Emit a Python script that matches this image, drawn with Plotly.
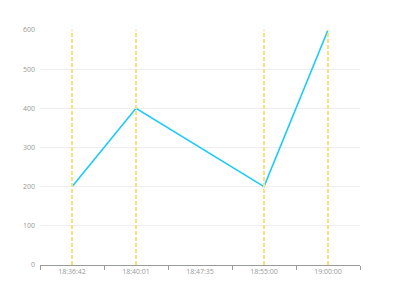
import plotly.graph_objects as go

categories = ["18:36:42", "18:40:01", "18:47:35", "18:55:00", "19:00:00"]
values = [200, 400, None, 200, 600]
marked = ["18:36:42", "18:40:01", "18:55:00", "19:00:00"]
y_ticks = [0, 100, 200, 300, 400, 500, 600]

fig = go.Figure()
fig.add_trace(go.Scatter(x=categories, y=values, mode="lines", connectgaps=True,
                         line=dict(color="#1ccbf9", width=1.6), hoverinfo="skip"))

for c in marked:
    fig.add_shape(type="line", xref="x", yref="paper", x0=c, x1=c, y0=0, y1=1,
                  line=dict(color="#fbdf78", width=2, dash="4px,2px"), layer="above")

fig.update_layout(
    width=400, height=300,
    margin=dict(l=40, r=40, t=30, b=35),
    paper_bgcolor="white", plot_bgcolor="white",
    showlegend=False,
    font=dict(family="Open Sans", size=7, color="#999999"),
)
fig.update_xaxes(type="category", categoryorder="array", categoryarray=categories,
                 range=[-0.5, 4.5], tickson="boundaries", ticks="outside", ticklen=4,
                 tickcolor="#999999", showline=True, linecolor="#999999", linewidth=1,
                 showgrid=False, tickfont=dict(size=7, color="#999999"), fixedrange=True)
fig.update_yaxes(range=[0, 600], tickvals=y_ticks, showgrid=True, gridcolor="#eeeeee",
                 gridwidth=1, zeroline=False, showline=False, ticks="",
                 tickfont=dict(size=7, color="#999999"), ticklabelstandoff=4)

fig.write_html("out.html")
